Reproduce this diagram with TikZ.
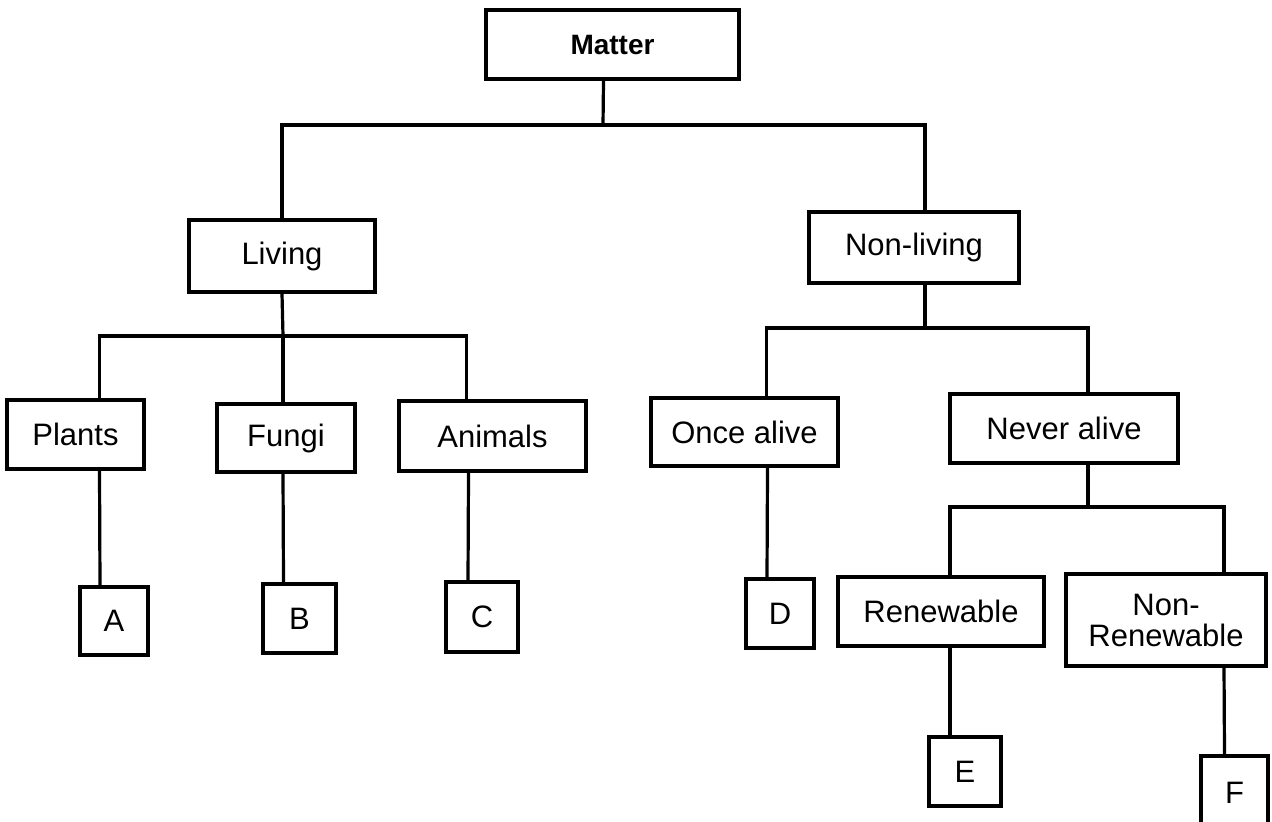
\documentclass[tikz,border=0pt]{standalone}
\usepackage{fontspec}
\setmainfont{Liberation Sans}
\tikzset{
    box/.style={draw, inner sep=0pt, align=center, font=\fontsize{15.5}{15.5}\selectfont},
    link/.style={line cap=round}
}
\begin{document}
\begin{tikzpicture}[x=0.5pt, y=-0.5pt, line width=1.6pt]
                \useasboundingbox (0,0) rectangle (1272,821);
                \node [box, minimum width=126.5pt, minimum height=34.5pt, font=\fontsize{14}{15}\selectfont\bfseries] (matter) at (612.5,44.5) {Matter};
                \node [box, minimum width=93pt, minimum height=36pt] (living) at (282,256) {Living};
                \node [box, minimum width=105pt, minimum height=35.5pt] (nonliving) at (914,247.5) {Non-living};
                \node [box, minimum width=68.5pt, minimum height=34.5pt] (plants) at (75.5,434.5) {Plants};
                \node [box, minimum width=69pt, minimum height=34pt] (fungi) at (286,438) {Fungi};
                \node [box, minimum width=93.5pt, minimum height=35pt] (animals) at (492.5,436) {Animals};
                \node [box, minimum width=93.5pt, minimum height=34pt] (oncealive) at (744.5,432) {Once alive};
                \node [box, minimum width=114pt, minimum height=34.5pt] (neveralive) at (1064,428.5) {Never alive};
                \node [box, minimum width=34pt, minimum height=34pt] (a) at (114,621) {A};
                \node [box, minimum width=36.5pt, minimum height=34.5pt] (b) at (299.5,618.5) {B};
                \node [box, minimum width=36pt, minimum height=35pt] (c) at (482,617) {C};
                \node [box, minimum width=34pt, minimum height=34.5pt] (d) at (780,613.5) {D};
                \node [box, minimum width=103pt, minimum height=34.5pt] (renewable) at (941,611.5) {Renewable};
                \node [box, minimum width=100pt, minimum height=46pt] (nonrenewable) at (1166,620) {Non-\\Renewable};
                \node [box, minimum width=36pt, minimum height=34.5pt] (e) at (965,771.5) {E};
                \node [box, minimum width=33.5pt, minimum height=37pt] (f) at (1234.5,793) {F};
                \coordinate (jmatter) at (603,125);
                \coordinate (jliving) at (283,336);
                \coordinate (jnonliving) at (925,328);
                \coordinate (jnever) at (1088,507);
                \draw [link] ([xshift=-4.5pt]matter.south) -- (jmatter);
                \draw [link] (jmatter) -| (living.north);
                \draw [link] (jmatter) -| ([xshift=5.5pt]nonliving.north);
                \draw [link] (living.south) -- (jliving);
                \draw [link] (jliving) -| ([xshift=12pt]plants.north);
                \draw [link] (jliving) -- ([xshift=-1.5pt]fungi.north);
                \draw [link] (jliving) -| ([xshift=-13pt]animals.north);
                \draw [link] ([xshift=12pt]plants.south) -- ([xshift=-7pt]a.north);
                \draw [link] ([xshift=-1.5pt]fungi.south) -- ([xshift=-8pt]b.north);
                \draw [link] ([xshift=-12pt]animals.south) -- ([xshift=-7pt]c.north);
                \draw [link] ([xshift=5.5pt]nonliving.south) -- (jnonliving);
                \draw [link] (jnonliving) -| ([xshift=11pt]oncealive.north);
                \draw [link] (jnonliving) -| ([xshift=12pt]neveralive.north);
                \draw [link] ([xshift=11.5pt]oncealive.south) -- ([xshift=-6.5pt]d.north);
                \draw [link] ([xshift=12pt]neveralive.south) -- (jnever);
                \draw [link] (jnever) -| ([xshift=4.5pt]renewable.north);
                \draw [link] (jnever) -| ([xshift=29pt]nonrenewable.north);
                \draw [link] ([xshift=4.5pt]renewable.south) -- ([xshift=-7.5pt]e.north);
                \draw [link] ([xshift=29pt]nonrenewable.south) -- ([xshift=-5pt]f.north);
\end{tikzpicture}
\end{document}
